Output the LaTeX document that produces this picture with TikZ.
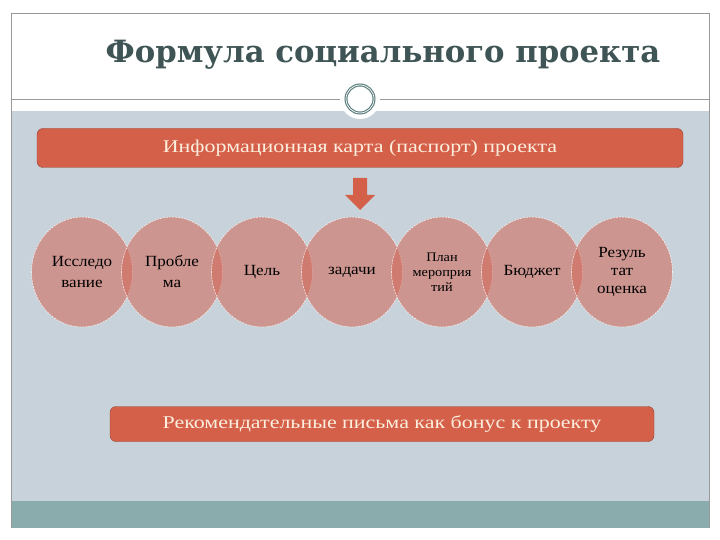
\documentclass[tikz,border=0pt]{standalone}
\usepackage{fontspec}
\usetikzlibrary{shapes.geometric}
\setmainfont{Liberation Serif}
\newfontfamily\titlefont{DejaVu Serif}
\newfontfamily\widefont[FakeStretch=1.22]{Liberation Serif}
\newfontfamily\circfont[FakeStretch=1.1]{Liberation Serif}
\definecolor{bgblue}{HTML}{C7D2DA}
\definecolor{bandteal}{HTML}{8AACAC}
\definecolor{coral}{HTML}{D5604A}
\definecolor{cream}{HTML}{FBEEDD}
\definecolor{titlecol}{HTML}{3F5454}
\definecolor{ringcol}{HTML}{5F7F7F}
\definecolor{circfill}{HTML}{D2695A}
\begin{document}
\begin{tikzpicture}[x=1pt,y=-1pt,
  frameline/.style={draw=gray!80, line width=0.8pt},
  banner/.style={rectangle, rounded corners=6pt, fill=coral, draw=coral!70!black, line width=0.4pt, text=cream, inner sep=0pt},
  petal/.style={ellipse, minimum width=101pt, minimum height=110pt, inner sep=0pt, fill=circfill, fill opacity=0.58, text opacity=1, draw=white, draw opacity=0.8, dashed, dash pattern=on 2pt off 1pt, line width=0.6pt, align=center, font=\circfont\fontsize{15.5}{21}\selectfont, text=black}]
\useasboundingbox (0,0) rectangle (720,540);
\fill[white] (0,0) rectangle (720,540);
% background areas
\fill[bgblue] (11,111) rectangle (709,501);
\fill[bandteal] (11,501) rectangle (709,528);
\draw[frameline] (11,13) -- (709,13);
\draw[frameline] (11,13) -- (11,528);
\draw[frameline] (709,13) -- (709,528);
\draw[frameline] (11,99) -- (709,99);
% title
\node[font=\titlefont\bfseries\fontsize{30.7}{36}\selectfont, text=titlecol] (title) at (383,55) {Формула социального проекта};
% ornament
\node[circle, fill=white, minimum size=40pt, inner sep=0pt] (orn) at (360,99) {};
\draw[ringcol, line width=3pt] (orn.center) circle[radius=14pt];
\draw[white, line width=0.7pt] (orn.center) circle[radius=14pt];
% top banner
\node[banner, minimum width=646pt, minimum height=39pt, font=\widefont\fontsize{18}{21}\selectfont] (info) at (360,148) {Информационная карта (паспорт) проекта};
% arrow
\fill[coral] (353,178) -- (367,178) -- (367,195) -- (375,195) -- (360,210) -- (345,195) -- (353,195) -- cycle;
% circles
\node[petal] (c1) at (82,272) {Исследо\\вание};
\node[petal] (c2) at (172,272) {Пробле\\ма};
\node[petal] (c3) at (262,272) {Цель};
\node[petal] (c4) at (352,272) {задачи};
\node[petal, font=\circfont\fontsize{13}{15}\selectfont] (c5) at (442,272) {План\\мероприя\\тий};
\node[petal] (c6) at (532,272) {Бюджет};
\node[petal, font=\circfont\fontsize{15.5}{18}\selectfont] (c7) at (622,272) {Резуль\\тат\\оценка};
% bottom banner
\node[banner, minimum width=544pt, minimum height=35pt, font=\widefont\fontsize{18}{21}\selectfont] (rec) at (382,424) {Рекомендательные письма как бонус к проекту};
\end{tikzpicture}
\end{document}
